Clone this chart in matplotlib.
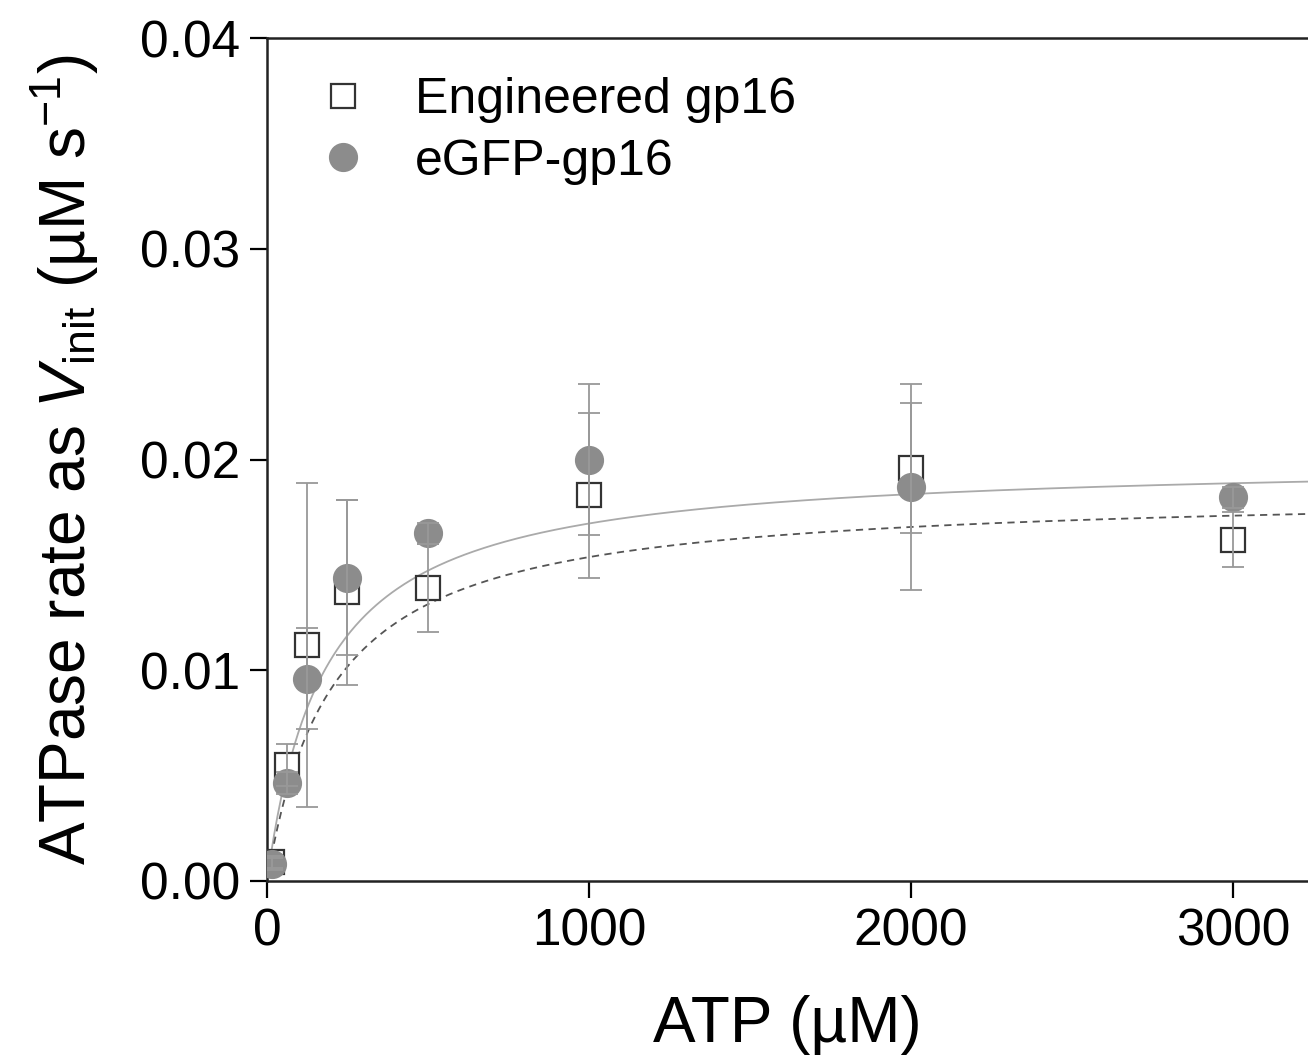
import numpy as np
import matplotlib
matplotlib.use("Agg")
import matplotlib.pyplot as plt
from matplotlib.lines import Line2D

plt.rcParams['font.family'] = ['Liberation Sans', 'DejaVu Sans']
plt.rcParams['mathtext.fontset'] = 'custom'
plt.rcParams['mathtext.rm'] = 'Liberation Sans'
plt.rcParams['mathtext.it'] = 'Liberation Sans:italic'

# ---- data ----
atp = [15.6, 62.5, 125, 250, 500, 1000, 2000, 3000]
eng_rate = [0.0009, 0.0055, 0.0112, 0.0137, 0.0139, 0.0183, 0.0196, 0.0162]
eng_err = [0.0003, 0.0010, 0.0077, 0.0044, 0.0021, 0.0039, 0.0031, 0.0013]
egfp_rate = [0.0008, 0.00465, 0.0096, 0.0144, 0.0165, 0.0200, 0.0187, 0.0182]
egfp_err = [0.0003, 0.0005, 0.0024, 0.0037, 0.0005, 0.0036, 0.0049, 0.0005]

# Michaelis-Menten fit parameters (Vmax, Km)
fit_solid = (0.0200, 179.0)
fit_dashed = (0.01852, 205.0)

x_ticks = [0, 1000, 2000, 3000]
y_ticks = [0.00, 0.01, 0.02, 0.03, 0.04]

fig = plt.figure(figsize=(13.08, 10.57), dpi=100)
ax = fig.add_axes([267/1308, 1-881/1057, 1-267/1308, (881-38)/1057])

xmax = 3233
xx = np.linspace(0, xmax, 600)
ax.plot(xx, fit_solid[0]*xx/(fit_solid[1]+xx), color='#aaaaaa', lw=1.3, zorder=2)
ax.plot(xx, fit_dashed[0]*xx/(fit_dashed[1]+xx), color='#555555', lw=1.3,
        ls=(0, (4, 3)), zorder=2)

ax.plot(atp, eng_rate, ls='none', marker='s', ms=17, mfc='white', mec='#333333',
        mew=1.6, zorder=3)
ax.plot(atp, egfp_rate, ls='none', marker='o', ms=20, mfc='#8c8c8c', mec='#8c8c8c',
        zorder=4)
ax.errorbar(atp, eng_rate, yerr=eng_err, fmt='none', ecolor='#999999', elinewidth=1.3,
            capsize=8, capthick=1.3, zorder=5)
ax.errorbar(atp, egfp_rate, yerr=egfp_err, fmt='none', ecolor='#999999', elinewidth=1.3,
            capsize=8, capthick=1.3, zorder=5)

ax.set_xlim(0, xmax)
ax.set_ylim(0, 0.04)
ax.set_xticks(x_ticks)
ax.set_yticks(y_ticks)
ax.set_yticklabels([f"{v:.2f}" for v in y_ticks])
ax.tick_params(direction='out', length=12, width=1.6, labelsize=37, pad=7, colors='black')
for s in ['left', 'bottom', 'top']:
    ax.spines[s].set_linewidth(1.8)
    ax.spines[s].set_color('#222222')
ax.spines['right'].set_visible(False)

ax.set_xlabel("ATP (µM)", fontsize=46, labelpad=28)
ax.set_ylabel(r"ATPase rate as $\mathit{V}_{\mathrm{init}}$ (µM s$^{-1}$)", fontsize=46, labelpad=28)

handles = [
    Line2D([], [], ls='none', marker='s', ms=17, mfc='white', mec='#333333', mew=1.6),
    Line2D([], [], ls='none', marker='o', ms=20, mfc='#8c8c8c', mec='#8c8c8c'),
]
ax.legend(handles, ["Engineered gp16", "eGFP-gp16"], loc='upper left',
          bbox_to_anchor=(0.0156, 0.995), frameon=False, fontsize=36,
          handlelength=1.0, handletextpad=0.94, labelspacing=0.31, borderaxespad=0.3)

fig.savefig("out.png", dpi=100)
